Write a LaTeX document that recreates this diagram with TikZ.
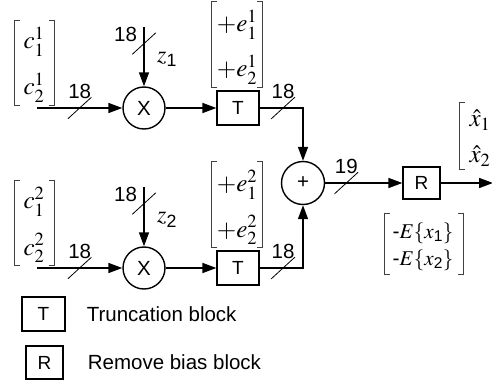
\documentclass[tikz,border=0pt]{standalone}
\usepackage{amsmath}
\usepackage{mathptmx}
\usepackage[no-math]{fontspec}
\setmainfont{Liberation Sans}
\usetikzlibrary{arrows.meta,positioning}

% square brackets round a vector node
\newcommand{\vbrackets}[1]{%
  \draw[brk] ([xshift=5pt]#1.north west) -- (#1.north west) -- (#1.south west) -- ([xshift=5pt]#1.south west);
  \draw[brk] ([xshift=-5pt]#1.north east) -- (#1.north east) -- (#1.south east) -- ([xshift=-5pt]#1.south east);}

\begin{document}
\begin{tikzpicture}[
    x=1pt, y=1pt,
    font=\fontsize{20.5}{24}\selectfont,
    >={Triangle[length=14pt,width=10pt]},
    flow/.style={->, line width=1.6pt},
    op/.style={draw, circle, line width=1.4pt, minimum size=42pt, inner sep=0pt},
    blk/.style={draw, line width=1.3pt, minimum width=42pt, minimum height=34pt, inner sep=0pt, font=\fontsize{19}{22}\selectfont},
    bus/.style={minimum width=22pt, minimum height=20pt, inner sep=0pt},
    slash/.style={line width=0.8pt},
    num/.style={inner sep=0pt},
    vbox/.style={inner sep=0pt},
    brk/.style={line width=0.8pt, black!75},
    ent/.style={inner sep=0pt, anchor=base, font=\fontsize{25}{30}\selectfont}
]
\useasboundingbox (0,0) rectangle (492,383);

\coordinate (in1) at (37,275);
\coordinate (in2) at (37,115);
\coordinate (z1) at (144,356);
\coordinate (z2) at (144,196);
\coordinate (out) at (493,200);

\node[op] (mul1) at (144,275) {X};
\node[op] (mul2) at (144,115) {X};
\node[blk] (trunc1) at (238,275) {T};
\node[blk] (trunc2) at (238,115) {T};
\node[op, minimum size=43pt] (add) at (303,200) {+};
\node[blk, minimum width=37pt, minimum height=32pt] (rb) at (421.5,200) {R};

% input and offset vectors
\node[vbox, minimum width=39pt, minimum height=84pt] (cv1) at (34.5,320) {};
\node[ent] (c11) at (34,334) {$c^1_1$};
\node[ent] (c12) at (34,288) {$c^1_2$};
\node[vbox, minimum width=39pt, minimum height=84pt] (cv2) at (34.5,160) {};
\node[ent] (c21) at (34,174) {$c^2_1$};
\node[ent] (c22) at (34,128) {$c^2_2$};
\node[vbox, minimum width=50pt, minimum height=85pt] (ev1) at (237,338.5) {};
\node[ent] (e11) at (237,351) {$+e^1_1$};
\node[ent] (e12) at (237,306) {$+e^1_2$};
\node[vbox, minimum width=50pt, minimum height=85pt] (ev2) at (237,178.5) {};
\node[ent] (e21) at (237,191) {$+e^2_1$};
\node[ent] (e22) at (237,146) {$+e^2_2$};
\node[vbox, minimum width=40pt, minimum height=66pt] (xv) at (480,247) {};
\node[ent] (x1) at (480,256) {$\hat{x}_1$};
\node[ent] (x2) at (480,220) {$\hat{x}_2$};
\node[vbox, minimum width=78pt, minimum height=60pt] (bv) at (424,139) {};
\node[ent, font=\fontsize{21}{25}\selectfont] (b1) at (423,145) {-$E\{x_{\text{1}}\}$};
\node[ent, font=\fontsize{21}{25}\selectfont] (b2) at (423,118) {-$E\{x_{\text{2}}\}$};
\foreach \v in {cv1,cv2,ev1,ev2,xv,bv} {\vbrackets{\v}}

\node[ent, anchor=base west, font=\fontsize{24}{28}\selectfont] (zl1) at (157,320) {$z_{\text{1}}$};
\node[ent, anchor=base west, font=\fontsize{24}{28}\selectfont] (zl2) at (157,160) {$z_{\text{2}}$};

\draw[flow] (in1) -- node[bus, pos=0.5] (sin1) {} (mul1);
\draw[flow] (z1) -- node[bus, pos=0.28] (sz1) {} (mul1);
\draw[flow] (mul1) -- (trunc1);
\draw[flow] (trunc1) -| node[bus, pos=0.27] (st1) {} (add);
\draw[flow] (in2) -- node[bus, pos=0.5] (sin2) {} (mul2);
\draw[flow] (z2) -- node[bus, pos=0.28] (sz2) {} (mul2);
\draw[flow] (mul2) -- (trunc2);
\draw[flow] (trunc2) -| node[bus, pos=0.27] (st2) {} (add);
\draw[flow] (add) -- node[bus, pos=0.274] (sadd) {} (rb);
\draw[flow] (rb) -- (out);
\foreach \s in {sin1,sz1,st1,sin2,sz2,st2,sadd} {\draw[slash] (\s.south west) -- (\s.north east);}

\node[num, above=-1.5pt of sin1] (nin1) {18};
\node[num, left=-5pt of sz1, yshift=9pt] (nz1) {18};
\node[num, above=-1.5pt of st1] (nt1) {18};
\node[num, above=-1.5pt of sin2] (nin2) {18};
\node[num, left=-5pt of sz2, yshift=9pt] (nz2) {18};
\node[num, above=-1.5pt of st2] (nt2) {18};
\node[num, above=-1.5pt of sadd] (nadd) {19};

% legend
\node[blk, minimum width=43pt] (lgT) at (43.5,69) {T};
\node[blk, minimum width=37pt, minimum height=33pt] (lgR) at (44.5,20.5) {R};
\node[right=21pt of lgT, inner sep=0pt] (lgTtxt) {Truncation block};
\node[right=24pt of lgR, inner sep=0pt] (lgRtxt) {Remove bias block};
\end{tikzpicture}
\end{document}
